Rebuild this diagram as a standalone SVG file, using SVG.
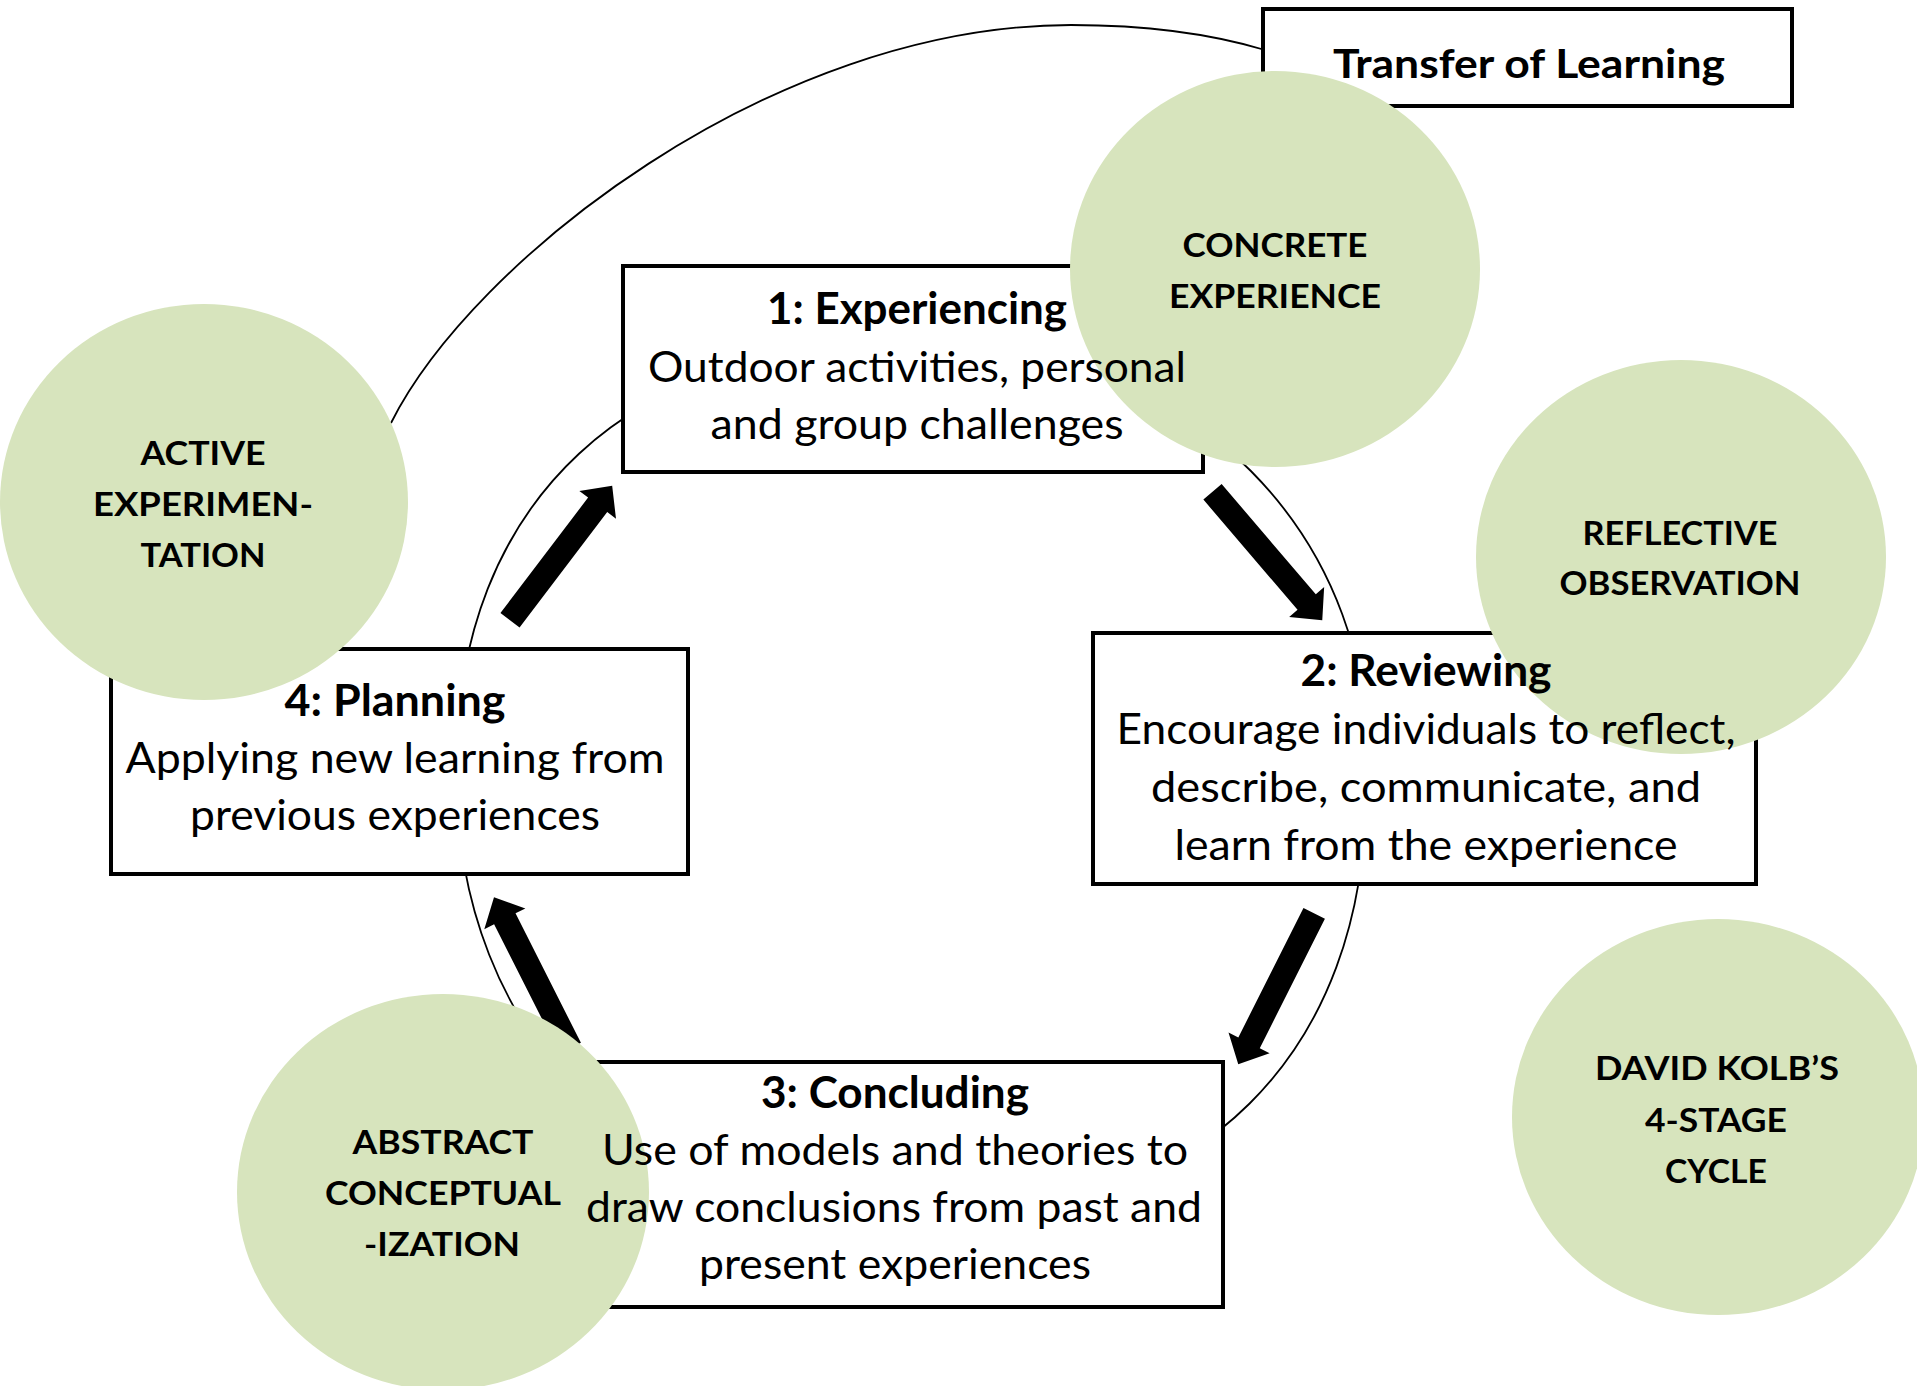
<svg xmlns="http://www.w3.org/2000/svg" xmlns:xlink="http://www.w3.org/1999/xlink" width="1917" height="1386" viewBox="0 0 1917 1386">
<style>
  .frame { fill:#ffffff; stroke:#000000; stroke-width:4; }
  .bubble { fill:#d7e4bd; stroke:none; }
  .thin { fill:none; stroke:#000000; stroke-width:1.8; }
  .arrow { fill:#000000; }
  text { font-family: Lato, "Liberation Sans", sans-serif; fill:#000000; text-anchor:middle; }
  .body { font-size:43px; }
  .head { font-size:43px; font-weight:bold; }
  .lab { font-size:32px; font-weight:bold; }
  .title { font-size:41px; font-weight:bold; }
</style>
<defs>
  <polygon id="blockArrow" points="0,-12 145,-12 145,-23 169,0 145,23 145,12 0,12"/>
</defs>
<rect x="0" y="0" width="1917" height="1386" fill="#ffffff"/>

<g id="connectors">
  <path id="transfer-arc" class="thin" d="M391,423 C471.5,262 771,25 1071,25 C1150,25 1215,35 1265,50"/>
  <path id="cycle-ring" class="thin" d="M918,340 C1190,340 1385,540 1366,790 C1366,1050 1205,1222 918,1222 C640,1222 456,1040 456,770 C456,500 630,340 918,340 Z"/>
  <use id="arrow-1-2" class="arrow" xlink:href="#blockArrow" transform="translate(1212.5,491.8) rotate(49.5)"/>
  <use id="arrow-2-3" class="arrow" xlink:href="#blockArrow" transform="translate(1314.2,913.3) rotate(116.7)"/>
  <use id="arrow-3-4" class="arrow" xlink:href="#blockArrow" transform="translate(570.2,1048.2) rotate(-116.8)"/>
  <use id="arrow-4-1" class="arrow" xlink:href="#blockArrow" transform="translate(510,620.3) rotate(-52.8)"/>
</g>

<g id="stage-frames">
  <rect id="frame-experiencing" class="frame" x="623" y="266" width="580" height="206"/>
  <rect id="frame-reviewing" class="frame" x="1093" y="633" width="663" height="251"/>
  <rect id="frame-concluding" class="frame" x="565" y="1062" width="658" height="245"/>
  <rect id="frame-planning" class="frame" x="111" y="649" width="577" height="225"/>
</g>

<g id="transfer-of-learning">
  <rect class="frame" x="1263" y="9" width="529" height="97"/>
  <text class="title" x="1529" y="78" textLength="392" lengthAdjust="spacingAndGlyphs">Transfer of Learning</text>
</g>

<g id="concrete-experience">
  <ellipse class="bubble" cx="1275" cy="269" rx="205" ry="198"/>
  <text class="lab" x="1275" y="257" textLength="185" lengthAdjust="spacingAndGlyphs">CONCRETE</text>
  <text class="lab" x="1275" y="308" textLength="212" lengthAdjust="spacingAndGlyphs">EXPERIENCE</text>
</g>

<g id="active-experimentation">
  <ellipse class="bubble" cx="204" cy="502" rx="204" ry="198"/>
  <text class="lab" x="203" y="465" textLength="125" lengthAdjust="spacingAndGlyphs">ACTIVE</text>
  <text class="lab" x="203" y="516" textLength="220" lengthAdjust="spacingAndGlyphs">EXPERIMEN-</text>
  <text class="lab" x="203" y="567" textLength="125" lengthAdjust="spacingAndGlyphs">TATION</text>
</g>

<g id="reflective-observation">
  <ellipse class="bubble" cx="1681" cy="557" rx="205" ry="197"/>
  <text class="lab" x="1680" y="545" textLength="195" lengthAdjust="spacingAndGlyphs">REFLECTIVE</text>
  <text class="lab" x="1680" y="595" textLength="241" lengthAdjust="spacingAndGlyphs">OBSERVATION</text>
</g>

<g id="abstract-conceptualization">
  <ellipse class="bubble" cx="443" cy="1192" rx="206" ry="198"/>
  <text class="lab" x="443" y="1154" textLength="181" lengthAdjust="spacingAndGlyphs">ABSTRACT</text>
  <text class="lab" x="443" y="1205" textLength="236" lengthAdjust="spacingAndGlyphs">CONCEPTUAL</text>
  <text class="lab" x="442" y="1256" textLength="156" lengthAdjust="spacingAndGlyphs">-IZATION</text>
</g>

<g id="kolb-cycle">
  <ellipse class="bubble" cx="1718" cy="1117" rx="206" ry="198"/>
  <text class="lab" x="1717" y="1080" textLength="244" lengthAdjust="spacingAndGlyphs">DAVID KOLB’S</text>
  <text class="lab" x="1716" y="1132" textLength="142" lengthAdjust="spacingAndGlyphs">4-STAGE</text>
  <text class="lab" x="1716" y="1183" textLength="102" lengthAdjust="spacingAndGlyphs">CYCLE</text>
</g>

<g id="stage-experiencing">
  <text class="head" x="917" y="324" textLength="300" lengthAdjust="spacingAndGlyphs">1: Experiencing</text>
  <text class="body" x="917" y="382" textLength="538" lengthAdjust="spacingAndGlyphs">Outdoor activities, personal</text>
  <text class="body" x="917" y="439" textLength="413" lengthAdjust="spacingAndGlyphs">and group challenges</text>
</g>

<g id="stage-reviewing">
  <text class="head" x="1426" y="686" textLength="251" lengthAdjust="spacingAndGlyphs">2: Reviewing</text>
  <text class="body" x="1426" y="744" textLength="619" lengthAdjust="spacingAndGlyphs">Encourage individuals to reflect,</text>
  <text class="body" x="1426" y="802" textLength="550" lengthAdjust="spacingAndGlyphs">describe, communicate, and</text>
  <text class="body" x="1426" y="860" textLength="503" lengthAdjust="spacingAndGlyphs">learn from the experience</text>
</g>

<g id="stage-concluding">
  <text class="head" x="895" y="1108" textLength="268" lengthAdjust="spacingAndGlyphs">3: Concluding</text>
  <text class="body" x="895" y="1165" textLength="586" lengthAdjust="spacingAndGlyphs">Use of models and theories to</text>
  <text class="body" x="894" y="1222" textLength="616" lengthAdjust="spacingAndGlyphs">draw conclusions from past and</text>
  <text class="body" x="895" y="1279" textLength="392" lengthAdjust="spacingAndGlyphs">present experiences</text>
</g>

<g id="stage-planning">
  <text class="head" x="395" y="716" textLength="221" lengthAdjust="spacingAndGlyphs">4: Planning</text>
  <text class="body" x="395" y="773" textLength="539" lengthAdjust="spacingAndGlyphs">Applying new learning from</text>
  <text class="body" x="395" y="830" textLength="410" lengthAdjust="spacingAndGlyphs">previous experiences</text>
</g>
</svg>
